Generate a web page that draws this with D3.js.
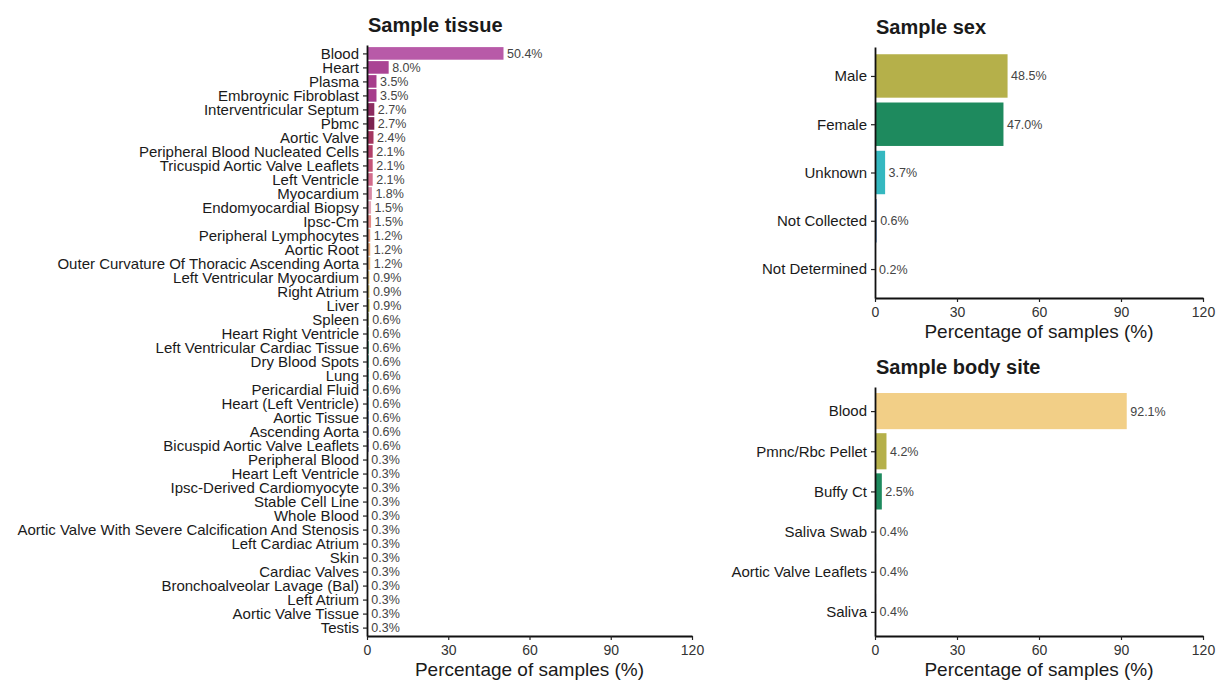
<!DOCTYPE html>
<html>
<head>
<meta charset="utf-8">
<script src="https://cdn.jsdelivr.net/npm/d3@7"></script>
<style>
  html, body { margin: 0; padding: 0; background: #fff; }
  svg { display: block; font-family: "Liberation Sans", Arial, sans-serif; }
</style>
</head>
<body>
<svg id="chart" width="1216" height="680"></svg>
<script>
// ---- Sample tissue ----
const tissueCategories = [
  "Blood", "Heart", "Plasma", "Embroynic Fibroblast", "Interventricular Septum", "Pbmc",
  "Aortic Valve", "Peripheral Blood Nucleated Cells", "Tricuspid Aortic Valve Leaflets",
  "Left Ventricle", "Myocardium", "Endomyocardial Biopsy", "Ipsc-Cm", "Peripheral Lymphocytes",
  "Aortic Root", "Outer Curvature Of Thoracic Ascending Aorta", "Left Ventricular Myocardium",
  "Right Atrium", "Liver", "Spleen", "Heart Right Ventricle", "Left Ventricular Cardiac Tissue",
  "Dry Blood Spots", "Lung", "Pericardial Fluid", "Heart (Left Ventricle)", "Aortic Tissue",
  "Ascending Aorta", "Bicuspid Aortic Valve Leaflets", "Peripheral Blood", "Heart Left Ventricle",
  "Ipsc-Derived Cardiomyocyte", "Stable Cell Line", "Whole Blood",
  "Aortic Valve With Severe Calcification And Stenosis", "Left Cardiac Atrium", "Skin",
  "Cardiac Valves", "Bronchoalveolar Lavage (Bal)", "Left Atrium", "Aortic Valve Tissue", "Testis"
];
const tissueValues = [
  50.4, 8.0, 3.5, 3.5, 2.7, 2.7, 2.4, 2.1, 2.1, 2.1, 1.8, 1.5, 1.5, 1.2, 1.2, 1.2, 0.9, 0.9, 0.9,
  0.6, 0.6, 0.6, 0.6, 0.6, 0.6, 0.6, 0.6, 0.6, 0.6, 0.3, 0.3, 0.3, 0.3, 0.3, 0.3, 0.3, 0.3, 0.3,
  0.3, 0.3, 0.3, 0.3
];
const tissueColors = [
  "#b85aa8", "#aa4494", "#a63d8c", "#a63d8c", "#8c2c60", "#7c2350", "#a33660", "#b2406a",
  "#c45578", "#d26c8c", "#d88aa6", "#e4a6b8", "#e48a86", "#e89a80", "#eaa878", "#efbb80",
  "#f2cf87", "#d8c070", "#b5b04a", "#8ca04e", "#5e9458", "#1e8a5e", "#1f9a7c", "#2aa99e",
  "#35b8c0", "#3a9cc8", "#4a80c0", "#5a68b4", "#6c58a8", "#7e4c9c", "#904494", "#a2428e",
  "#b44c8e", "#c45a88", "#d06c84", "#dc8084", "#e49488", "#eaa88c", "#eebc8e", "#f0cc90",
  "#d8c474", "#b8b45a"
];

// ---- Sample sex ----
const sexCategories = ["Male", "Female", "Unknown", "Not Collected", "Not Determined"];
const sexValues = [48.5, 47.0, 3.7, 0.6, 0.2];
const sexColors = ["#b5b04a", "#1e8a5e", "#35b8c0", "#4a80c0", "#6c58a8"];

// ---- Sample body site ----
const siteCategories = ["Blood", "Pmnc/Rbc Pellet", "Buffy Ct", "Saliva Swab", "Aortic Valve Leaflets", "Saliva"];
const siteValues = [92.1, 4.2, 2.5, 0.4, 0.4, 0.4];
const siteColors = ["#f2cf87", "#b5b04a", "#1e8a5e", "#35b8c0", "#4a80c0", "#6c58a8"];

const xTicks = [0, 30, 60, 90, 120];
const axisTitle = "Percentage of samples (%)";

const svg = d3.select("#chart");

function drawPanel(opts) {
  const { title, categories, values, colors, left, right, top, bottom } = opts;
  const g = svg.append("g");

  const x = d3.scaleLinear().domain([0, 120]).range([left, right]);
  const y = d3.scalePoint().domain(categories).range([top, bottom]).padding(0.6);
  const bw = y.step() * 0.9;

  // bars
  g.selectAll("rect.bar")
    .data(categories)
    .join("rect")
    .attr("class", "bar")
    .attr("x", x(0))
    .attr("y", d => y(d) - bw / 2)
    .attr("width", (d, i) => x(values[i]) - x(0))
    .attr("height", bw)
    .attr("fill", (d, i) => colors[i]);

  // value labels
  g.selectAll("text.val")
    .data(categories)
    .join("text")
    .attr("class", "val")
    .attr("x", (d, i) => x(values[i]) + 3.5)
    .attr("y", d => y(d))
    .attr("dy", "0.36em")
    .attr("font-size", 12.5)
    .attr("fill", "#444")
    .text((d, i) => values[i].toFixed(1) + "%");

  // y axis
  const yAxis = g.append("g")
    .attr("transform", `translate(${left},0)`)
    .call(d3.axisLeft(y).tickSize(4).tickSizeOuter(0).tickPadding(4));
  yAxis.select(".domain").attr("stroke", "#111").attr("stroke-width", 1.8);
  yAxis.selectAll(".tick line").attr("stroke", "#222").attr("stroke-width", 1.2);
  yAxis.selectAll(".tick text")
    .attr("font-size", 15)
    .attr("font-family", "Liberation Sans, Arial, sans-serif")
    .attr("fill", "#1a1a1a");

  // x axis
  const xAxis = g.append("g")
    .attr("transform", `translate(0,${bottom})`)
    .call(d3.axisBottom(x).tickValues(xTicks).tickSize(4).tickSizeOuter(0).tickPadding(5));
  xAxis.select(".domain").attr("stroke", "#111").attr("stroke-width", 1.8);
  xAxis.selectAll(".tick line").attr("stroke", "#222").attr("stroke-width", 1.2);
  xAxis.selectAll(".tick text")
    .attr("font-size", 14)
    .attr("font-family", "Liberation Sans, Arial, sans-serif")
    .attr("fill", "#333");

  // axis title
  g.append("text")
    .attr("x", (left + right) / 2)
    .attr("y", bottom + 40)
    .attr("text-anchor", "middle")
    .attr("font-size", 19)
    .attr("fill", "#1a1a1a")
    .text(axisTitle);

  // panel title
  g.append("text")
    .attr("x", left + 1)
    .attr("y", top - 13)
    .attr("font-size", 20)
    .attr("font-weight", "bold")
    .attr("fill", "#1a1a1a")
    .text(title);
}

drawPanel({
  title: "Sample tissue",
  categories: tissueCategories, values: tissueValues, colors: tissueColors,
  left: 367, right: 692, top: 45, bottom: 636
});
drawPanel({
  title: "Sample sex",
  categories: sexCategories, values: sexValues, colors: sexColors,
  left: 875, right: 1203, top: 47, bottom: 298
});
drawPanel({
  title: "Sample body site",
  categories: siteCategories, values: siteValues, colors: siteColors,
  left: 875, right: 1203, top: 387, bottom: 636
});
</script>
</body>
</html>
